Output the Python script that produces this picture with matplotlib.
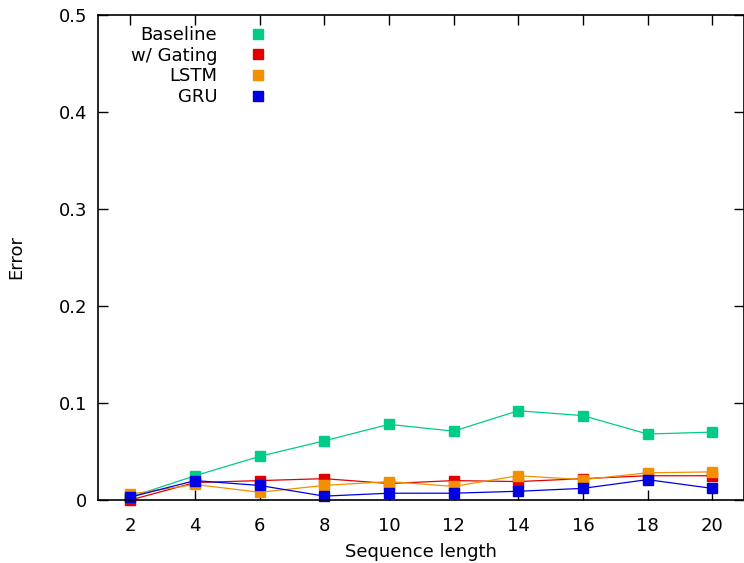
import matplotlib
matplotlib.use("Agg")
import matplotlib.pyplot as plt
from matplotlib.ticker import FuncFormatter

seq_len = [2, 4, 6, 8, 10, 12, 14, 16, 18, 20]
baseline = [0.003, 0.025, 0.045, 0.061, 0.078, 0.071, 0.092, 0.087, 0.068, 0.070]
gating = [0.000, 0.018, 0.020, 0.022, 0.017, 0.020, 0.019, 0.022, 0.025, 0.025]
lstm = [0.006, 0.016, 0.008, 0.015, 0.019, 0.014, 0.025, 0.021, 0.028, 0.029]
gru = [0.003, 0.020, 0.015, 0.004, 0.007, 0.007, 0.009, 0.012, 0.021, 0.012]

series = [
    ("Baseline", baseline, "#00cc88"),
    ("w/ Gating", gating, "#e00000"),
    ("LSTM", lstm, "#f29000"),
    ("GRU", gru, "#0000e0"),
]

fs = 13

fig = plt.figure(figsize=(7.44, 5.63), dpi=100)
ax = fig.add_axes([98 / 744, 63 / 563, 646.5 / 744, 485 / 563])

for name, vals, col in series:
    ax.plot(seq_len, vals, color=col, lw=0.9, marker="s", ms=7, mec=col, mfc=col,
            label=name, clip_on=False)

ax.set_xlim(1, 21)
ax.set_ylim(0, 0.5)
ax.set_xticks(seq_len)
ax.set_yticks([0, 0.1, 0.2, 0.3, 0.4, 0.5])
ax.yaxis.set_major_formatter(FuncFormatter(lambda v, pos: f"{v:g}"))
ax.tick_params(direction="in", length=7, width=1, top=True, right=True,
               labelsize=fs)
ax.tick_params(axis="x", pad=12)
ax.tick_params(axis="y", pad=8)
for s in ax.spines.values():
    s.set_linewidth(1.2)

# axis labels placed in figure coords (gnuplot-like spacing)
fig.text(16 / 744, 1 - 257 / 563, "Error", fontsize=fs, rotation=90, ha="center", va="center")
fig.text(421 / 744, 1 - 552 / 563, "Sequence length", fontsize=fs, ha="center", va="center")

handles = [plt.Line2D([], [], ls="none", marker="s", ms=7, color=c) for _, _, c in series]
ax.legend(handles, [n for n, _, _ in series], loc="upper left", bbox_to_anchor=(0.034, 1.0),
          frameon=False, markerfirst=False, fontsize=fs, handlelength=1.5,
          handletextpad=1.5, labelspacing=0.15, borderaxespad=0.2)

fig.savefig("out.png", dpi=100)
